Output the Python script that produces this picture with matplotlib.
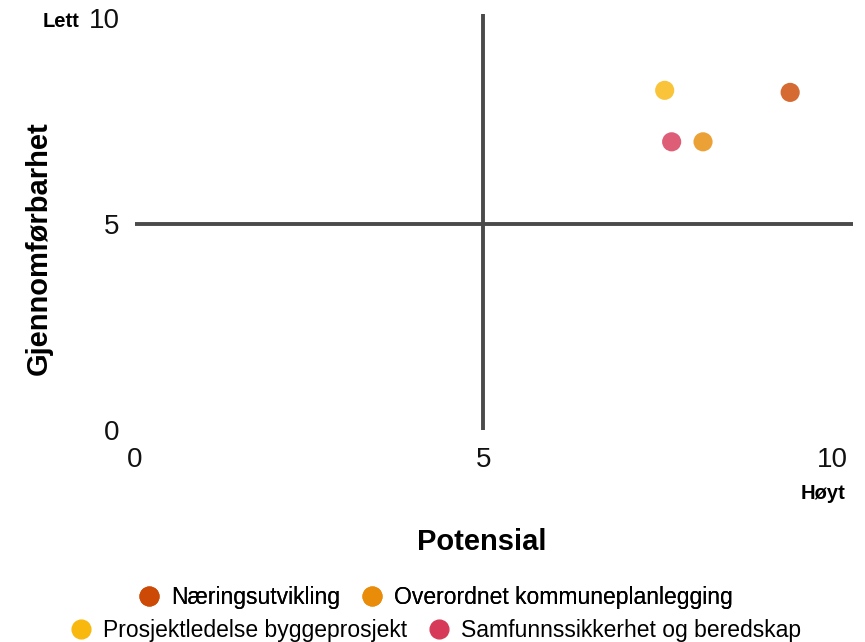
import matplotlib
matplotlib.use("Agg")
import matplotlib.pyplot as plt
from matplotlib.lines import Line2D

# =========================
# DATA
# =========================

names = ["Næringsutvikling", "Overordnet kommuneplanlegging",
         "Prosjektledelse byggeprosjekt", "Samfunnssikkerhet og beredskap"]
potensial = [9.4, 8.15, 7.6, 7.7]
gjennomforbarhet = [8.2, 7.0, 8.25, 7.0]
colors = ["#cc4a05", "#e88c0a", "#f9b80e", "#d63a58"]

ticks = [0, 5, 10]

# =========================
# FIGURE
# =========================

plt.rcParams["font.family"] = ["Liberation Sans", "DejaVu Sans"]

fig = plt.figure(figsize=(8.65, 6.42), dpi=100)
ax = fig.add_axes([0.156, 0.330, 0.830, 0.648])
ax.set_xlim(0, 10.3)
ax.set_ylim(0, 10.1)

# quadrant lines
ax.axhline(5, color="#4a4a4a", lw=2.8, zorder=1)
ax.axvline(5, color="#4a4a4a", lw=2.8, zorder=1)

ax.scatter(potensial, gjennomforbarhet, s=190, c=colors, alpha=0.82,
           edgecolors="none", zorder=3)

for s in ax.spines.values():
    s.set_visible(False)

ax.set_xticks(ticks)
ax.set_xticklabels([str(t) for t in ticks])
ax.set_yticks(ticks)
ax.set_yticklabels([str(t) for t in ticks])
ax.tick_params(axis="x", length=0, pad=12, labelsize=20, colors="#111111")
ax.tick_params(axis="y", length=0, pad=11, labelsize=20, colors="#111111")

fig.text(0.557, 0.156, "Potensial", ha="center", va="center",
         fontsize=21, fontweight="bold")
fig.text(0.045, 0.613, "Gjennomførbarhet", ha="center", va="center",
         rotation=90, fontsize=21, fontweight="bold")
fig.text(0.070, 0.967, "Lett", ha="center", va="center",
         fontsize=14.5, fontweight="bold")
fig.text(0.951, 0.232, "Høyt", ha="center", va="center",
         fontsize=14.5, fontweight="bold")

# =========================
# LEGEND (two centred rows)
# =========================

handles = [Line2D([], [], marker="o", ls="", color=c, markersize=13.5)
           for c in colors]

leg1 = fig.legend(handles[:2], names[:2], ncol=2, loc="center",
                  bbox_to_anchor=(0.5, 0.069), frameon=False, fontsize=16.5,
                  handletextpad=0.2, columnspacing=0.65, handlelength=1.5)
fig.add_artist(leg1)
fig.legend(handles[2:], names[2:], ncol=2, loc="center",
           bbox_to_anchor=(0.5, 0.018), frameon=False, fontsize=16.5,
           handletextpad=0.2, columnspacing=0.65, handlelength=1.5)

fig.savefig("out.png", dpi=100)
